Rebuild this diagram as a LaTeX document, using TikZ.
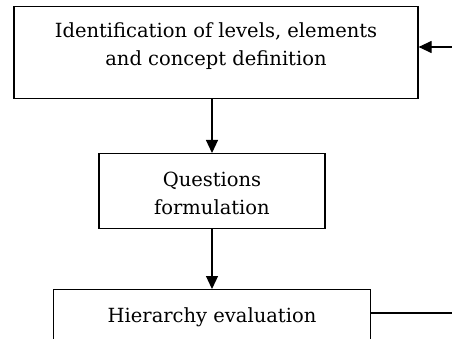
\documentclass[tikz,border=0pt]{standalone}
\usepackage{fontspec}
\setmainfont{DejaVu Serif}
\usetikzlibrary{arrows.meta}

\begin{document}
\begin{tikzpicture}[x=1pt, y=-1pt,
        flowbox/.style={rectangle, draw=black, line width=1.2pt, inner ysep=0pt, align=center,
            font=\fontsize{19.5}{28}\selectfont, anchor=north},
        flowarrow/.style={line width=1.2pt, -{Triangle[length=13pt, width=12pt]}},
    ]
        \clip (0,0) rectangle (452,339);

        %Nodes
        \node[flowbox, minimum width=404pt, text height=59pt, text depth=33pt] (ident) at (216,6)
            {Identification of levels, elements\\ and concept definition};
        \node[flowbox, minimum width=226pt, text height=61pt, text depth=14pt] (quest) at (212,153)
            {Questions\\ formulation};
        \node[flowbox, minimum width=317pt, text height=33pt, text depth=40pt] (hier) at (212,289)
            {Hierarchy evaluation};

        \coordinate (fbin) at (452,47);
        \coordinate (fbout) at (452,313);

        %Lines
        \draw[flowarrow] (ident.south -| quest) -- (quest);
        \draw[flowarrow] (quest) -- (hier);
        \draw[flowarrow] (fbin) -- (fbin -| ident.east);
        \draw[line width=1.2pt] (hier.east |- fbout) -- (fbout);
    \end{tikzpicture}
\end{document}
